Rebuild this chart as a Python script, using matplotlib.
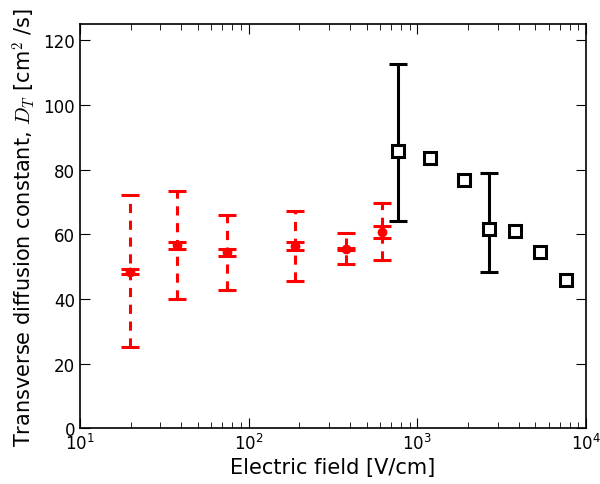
import matplotlib
matplotlib.use("Agg")
import matplotlib.pyplot as plt
import numpy as np

plt.rcParams['mathtext.fontset'] = 'cm'

# Red series (low field)
red_x = [19.9, 37.9, 74.6, 187.6, 378, 621]
red_y = [48.4, 56.6, 54.6, 56.4, 55.4, 60.8]
red_big_hi = [72.1, 73.3, 66.1, 67.1, 60.3, 69.6]
red_big_lo = [25.0, 40.0, 42.7, 45.4, 50.7, 51.9]
red_small_hi = [49.2, 57.5, 55.6, 57.7, 55.8, 62.7]
red_small_lo = [47.7, 55.6, 53.2, 55.0, 55.0, 58.9]

# Black series (high field)
blk_x = [767, 1181, 1888, 2656, 3790, 5333, 7550]
blk_y = [85.7, 83.6, 76.7, 61.5, 61.0, 54.6, 45.8]
blk_err_x = [767, 2656]
blk_err_y = [85.7, 61.5]
blk_err_hi = [112.6, 79.0]
blk_err_lo = [64.0, 48.2]

fig = plt.figure(figsize=(6.0, 4.85), dpi=100)
ax = fig.add_axes([0.133, 0.115, 0.844, 0.833])

ry = np.array(red_y)
big = [ry - np.array(red_big_lo), np.array(red_big_hi) - ry]
small = [ry - np.array(red_small_lo), np.array(red_small_hi) - ry]

eb = ax.errorbar(red_x, red_y, yerr=big, fmt='none', ecolor='red',
                 elinewidth=2.2, capsize=6.5, capthick=2.2)
eb[2][0].set_linestyle((0, (3, 2.5)))
ax.errorbar(red_x, red_y, yerr=small, fmt='o', color='red', ms=6,
            ecolor='red', elinewidth=2.2, capsize=6.5, capthick=2.2)

by = np.array(blk_err_y)
ax.errorbar(blk_err_x, blk_err_y,
            yerr=[by - np.array(blk_err_lo), np.array(blk_err_hi) - by],
            fmt='none', ecolor='black', elinewidth=2.2, capsize=6.5, capthick=2.2)
ax.plot(blk_x, blk_y, 's', mfc='white', mec='black', mew=2.2, ms=8, ls='none')

ax.set_xscale('log')
ax.set_xlim(10, 1e4)
ax.set_ylim(0, 125)
ax.set_yticks([0, 20, 40, 60, 80, 100, 120])
ax.tick_params(which='both', direction='in', top=True, right=True, labelsize=12)
ax.tick_params(which='major', length=7)
ax.tick_params(which='minor', length=4)
for s in ax.spines.values():
    s.set_linewidth(1.2)

ax.set_xlabel('Electric field [V/cm]', fontsize=15, labelpad=3)
ax.set_ylabel(r'Transverse diffusion constant, $D_T$ [cm$^2$ /s]', fontsize=15)

fig.savefig('out.png', dpi=100)
